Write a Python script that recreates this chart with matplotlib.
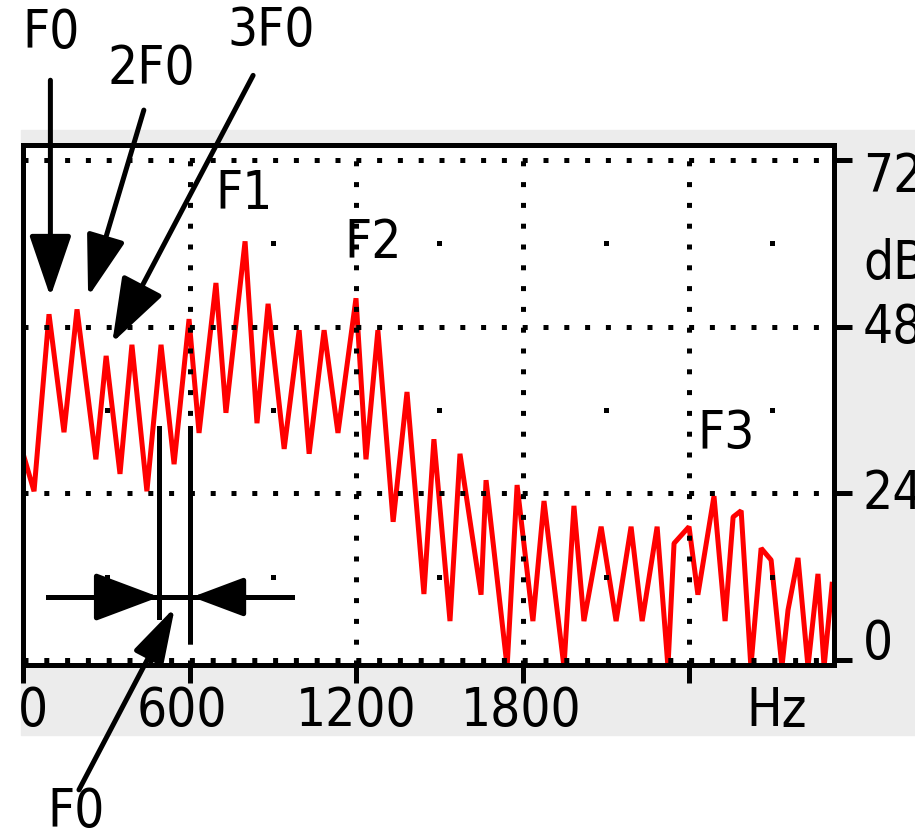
import numpy as np
import matplotlib
matplotlib.use("Agg")
import matplotlib.pyplot as plt
from matplotlib.patches import Rectangle

# spectrum: local peaks and troughs (Hz, dB)
freq_hz = [0, 38, 92, 146, 193, 261, 298, 348, 391, 445, 496, 543, 597, 633,
           694, 730, 799, 842, 882, 940, 994, 1030, 1084, 1134, 1199, 1235,
           1278, 1333, 1383, 1444, 1480, 1538, 1574, 1650, 1668, 1744, 1780,
           1837, 1877, 1949, 1985, 2021, 2083, 2137, 2191, 2231, 2285, 2324,
           2346, 2400, 2432, 2490, 2530, 2559, 2588, 2623, 2660, 2696, 2735,
           2757, 2793, 2829, 2865, 2887, 2916]
level_db = [29.5, 24.3, 49.8, 32.8, 50.5, 28.9, 43.8, 26.8, 45.4, 24.3, 45.4,
            28.2, 49.1, 32.7, 54.3, 35.6, 60.3, 34.1, 51.3, 30.4, 47.5, 29.7,
            47.5, 32.7, 52.1, 28.9, 47.5, 19.9, 38.6, 9.5, 31.8, 5.6, 29.7,
            9.4, 25.9, -1, 25.2, 5.6, 22.9, -1, 22.2, 5.6, 19.2, 5.6, 19.2,
            5.6, 19.2, -1, 16.8, 19.2, 9.4, 23.6, 5.6, 20.6, 21.5, -1, 16.1,
            14.4, -1, 7.2, 14.7, -1, 12.4, -1, 10.9]

x_ticks = [0, 600, 1200, 1800, 2400]
y_ticks = [0, 24, 48, 72]
x_labels = ["0", "600", "1200", "1800", "Hz"]
x_label_pos = [35, 572, 1199, 1794, 2717]
y_labels = ["72", "dB", "48", "24", "0"]
y_label_pos = [69.6, 57.0, 47.8, 23.9, 2.3]

# single grid dots between the dotted lines
dot_hz = [300, 900, 1500, 2100, 2700]
dot_db = [12, 36, 60]

# formant / harmonic labels (text, Hz, dB)
labels = [("F0", 99, 90.3), ("2F0", 460, 85.1), ("3F0", 893, 90.6),
          ("F1", 795, 67.1), ("F2", 1260, 60.1), ("F3", 2533, 32.5),
          ("F0", 189, -21.9)]

plt.rcParams["font.family"] = ["DejaVu Sans"]
plt.rcParams["font.stretch"] = "condensed"
LW = 3.6
FS = 38

fig = plt.figure(figsize=(9.15, 8.35), dpi=100)
fig.patches.append(Rectangle((21 / 915, 100 / 835), 894 / 915, 605 / 835,
                             transform=fig.transFigure, color="#ececec",
                             zorder=-1))
ax = fig.add_axes([0.02568, 0.20419, 0.88525, 0.62156])
ax.set_facecolor("white")

ax.plot(freq_hz, level_db, color="red", lw=LW, solid_joinstyle="bevel",
        zorder=2)

ax.set_xlim(0, 2921)
ax.set_ylim(-0.65, 74.1)
ax.set_xticks(x_ticks)
ax.set_yticks(y_ticks)
ax.set_xticklabels([])
ax.set_yticklabels([])
ax.yaxis.tick_right()
ax.tick_params(axis="both", direction="out", length=13, width=LW,
               color="black")
for sp in ax.spines.values():
    sp.set_linewidth(LW)
    sp.set_capstyle("projecting")

ax.set_axisbelow(False)
ax.grid(True, color="black", linewidth=LW, linestyle=(0, (1, 3.16)))
gx, gy = np.meshgrid(dot_hz, dot_db)
ax.scatter(gx.ravel(), gy.ravel(), marker="s", s=LW ** 2, color="black",
           linewidths=0, zorder=3)

for txt, xp in zip(x_labels, x_label_pos):
    ax.text(xp, -7.3, txt, ha="center", va="center", fontsize=FS,
            clip_on=False)
for txt, yp in zip(y_labels, y_label_pos):
    ax.text(3027, yp, txt, ha="left", va="center", fontsize=FS,
            clip_on=False)
for txt, xp, yp in labels:
    ax.text(xp, yp, txt, ha="center", va="center", fontsize=FS,
            clip_on=False, zorder=5)


def arrow(start, tip, head_len, head_w):
    ax.annotate("", xy=tip, xytext=start, annotation_clip=False,
                arrowprops=dict(arrowstyle=f"-|>,head_length={head_len},"
                                f"head_width={head_w}",
                                color="black", lw=LW, shrinkA=0, shrinkB=0,
                                mutation_scale=1), zorder=4)


# harmonic arrows
arrow((97, 83.5), (97, 52.3), 38, 13)
arrow((434, 79.2), (233, 52.3), 38, 12)
arrow((828, 84.2), (320, 45.7), 40, 14)
arrow((200, -18.7), (546, 7.6), 34, 10)

# F0 spacing marker
ax.plot([88, 968], [9.07, 9.07], color="black", lw=LW, clip_on=False,
        zorder=4)
ax.plot([490, 490], [33.4, 6.2], color="black", lw=LW, zorder=4)
ax.plot([600, 600], [33.4, 2.9], color="black", lw=LW, zorder=4)
arrow((272, 9.07), (489, 9.07), 40, 15)
arrow((799, 9.07), (608, 9.07), 32, 12)

fig.savefig("out.png", dpi=100)
